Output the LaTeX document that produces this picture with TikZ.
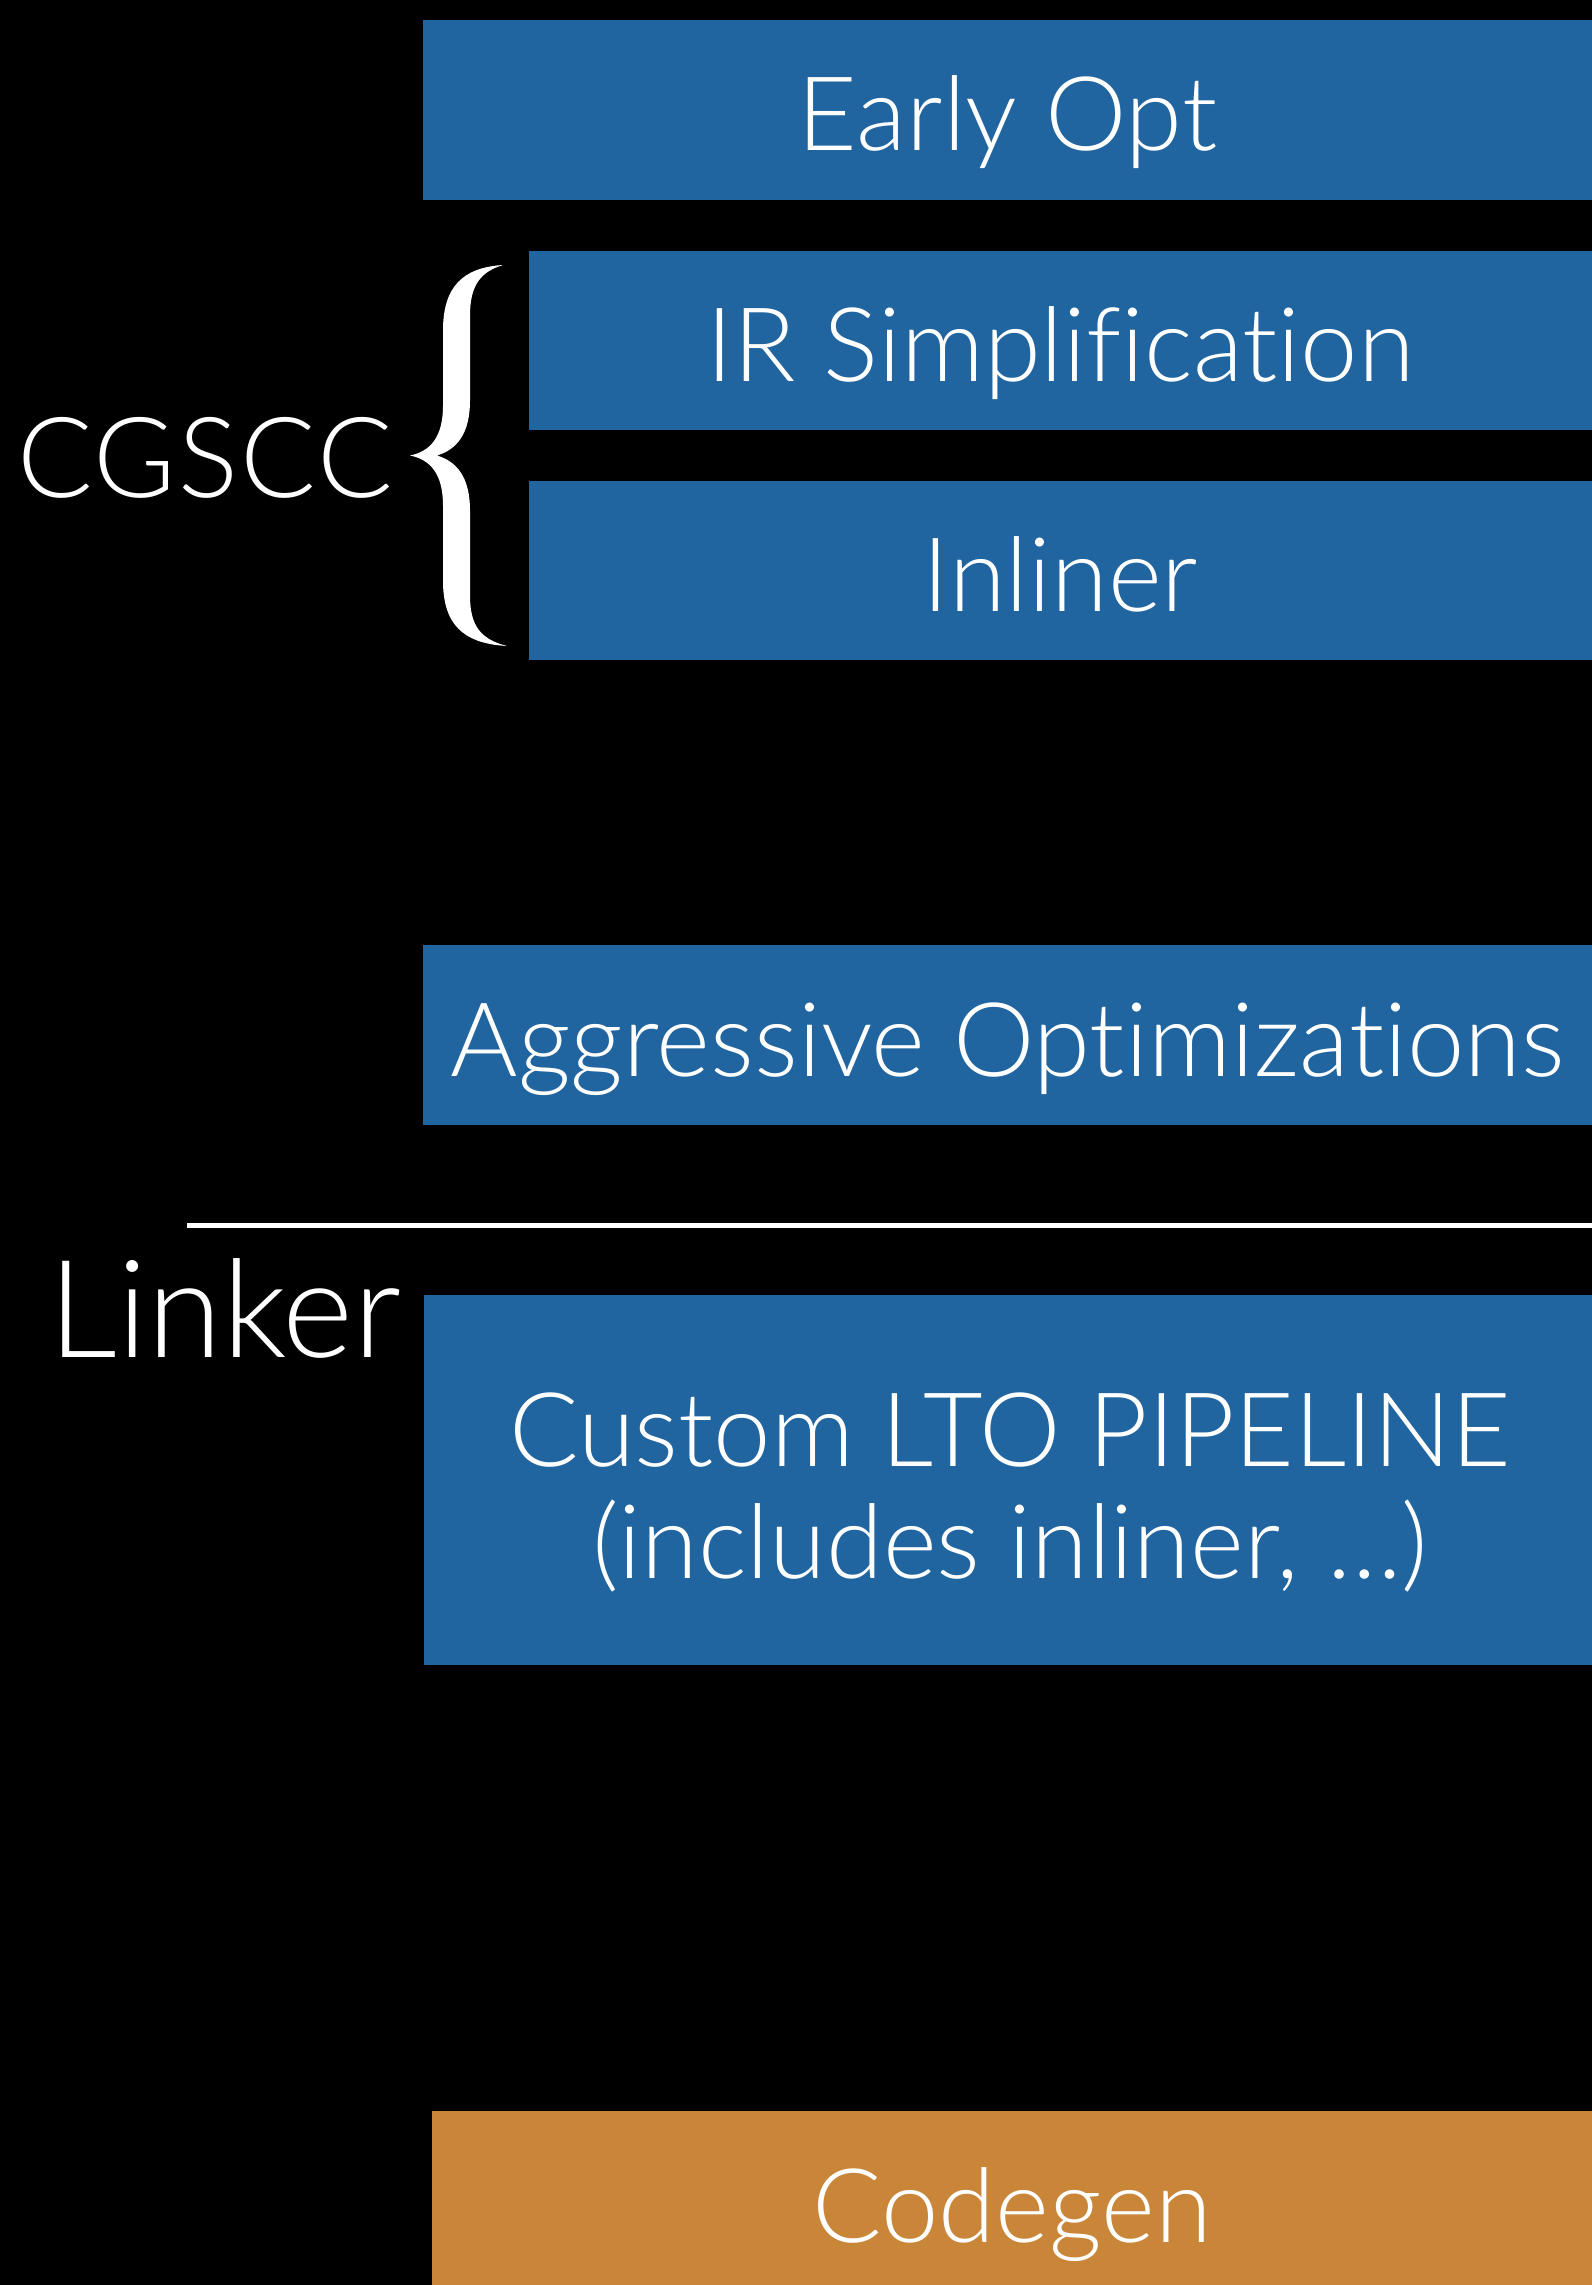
\documentclass[tikz,border=0pt]{standalone}
\usepackage{fontspec}
\IfFontExistsTF{Lato Light}{\setmainfont{Lato Light}[Ligatures={NoCommon,NoRare}]}{\setmainfont{TeX Gyre Heros}}
\definecolor{passblue}{RGB}{33,101,160}
\definecolor{passorange}{RGB}{201,134,56}
\tikzset{
  pass/.style={fill=passblue, inner sep=0pt, text=white, minimum height=180pt,
    font=\fontsize{103}{112}\selectfont, text height=82pt, text depth=0pt},
  sidetext/.style={inner sep=0pt, text=white, anchor=base west}
}
\begin{document}
\begin{tikzpicture}[x=1pt,y=1pt,yscale=-1]
        \useasboundingbox (0,0) rectangle (1592,2285);
        \fill [black] (0,0) rectangle (1592,2285);

        %Shape: Rectangle [early opt]
        \node (early) [pass, minimum width=1169pt] at (1007.5,110) {Early Opt};
        %Shape: Rectangle [cgscc passes]
        \node (irsimp) [pass, minimum width=1063pt, minimum height=179pt] at (1060.5,340.5) {IR Simplification};
        \node (inliner) [pass, minimum width=1063pt, minimum height=179pt] at (1060.5,570.5) {Inliner};
        %Shape: Rectangle [aggressive]
        \node (aggr) [pass, minimum width=1169pt] at (1007.5,1035) {Aggressive Optimizations};
        %Shape: Rectangle [lto]
        \node (lto) [pass, minimum width=1168pt, minimum height=370pt] at (1008,1480) {};
        \node (ltotext) [inner sep=0pt, text=white, align=center, font=\fontsize{103}{112}\selectfont] at (1010,1492) {Custom LTO PIPELINE\\(includes inliner, …)};
        %Shape: Rectangle [codegen]
        \node (codegen) [pass, fill=passorange, minimum width=1160pt] at (1012,2201) {Codegen};

        %Shape: Brace
        \begin{scope}[shift={(410,455.5)}]
        \fill [white] (0,0) .. controls (20,-4) and (33,-18) .. (33,-50) -- (33,-125) .. controls (33,-168) and (52,-188) .. (93,-190.5)
          .. controls (72,-184) and (60,-172) .. (60,-140) -- (60,-55) .. controls (60,-22) and (47,-6) .. (27,0)
          .. controls (47,6) and (60,22) .. (60,55) -- (60,140) .. controls (60,172) and (72,184) .. (97,190.5)
          .. controls (52,188) and (33,168) .. (33,125) -- (33,50) .. controls (33,18) and (20,4) .. (0,0) -- cycle;
        \end{scope}

        %Straight Lines [separator]
        \coordinate (sepl) at (187,1225);
        \coordinate (sepr) at (1592,1225);
        \draw [white, line width=5pt] (sepl) -- (sepr);

        % Text Node
        \node (cgscc) [sidetext, font=\fontsize{112}{120}\selectfont\addfontfeatures{LetterSpace=2}] at (17,497) {CGSCC};
        % Text Node
        \node (linker) [sidetext, font=\fontsize{136}{150}\selectfont] at (48,1357) {Linker};
\end{tikzpicture}
\end{document}
